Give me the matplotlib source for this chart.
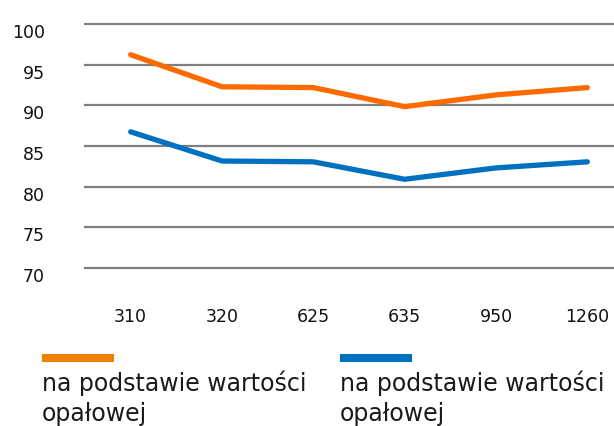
import matplotlib
matplotlib.use("Agg")
import matplotlib.pyplot as plt
from matplotlib.lines import Line2D
import matplotlib.transforms as mtransforms

# Data
categories = ["310", "320", "625", "635", "950", "1260"]
orange_vals = [96.25, 92.3, 92.2, 89.85, 91.3, 92.2]
blue_vals = [86.75, 83.15, 83.05, 80.9, 82.3, 83.05]
series_labels = ["na podstawie wartości\nopałowej", "na podstawie wartości\nopałowej"]
y_ticks = [70, 75, 80, 85, 90, 95, 100]

orange = "#FF6A00"
blue = "#0070C0"
legend_orange = "#F08000"

plt.rcParams["font.family"] = "DejaVu Sans"

fig = plt.figure(figsize=(6.14, 4.27), dpi=100)
# axes spans beyond the right edge so the grid runs to the border
ax = fig.add_axes([85 / 614, 158.3 / 427, 548 / 614, 243.4 / 427])

x = list(range(len(categories)))
ax.plot(x, orange_vals, color=orange, lw=3.8, solid_capstyle="round", solid_joinstyle="round", zorder=3)
ax.plot(x, blue_vals, color=blue, lw=3.8, solid_capstyle="round", solid_joinstyle="round", zorder=3)

ax.set_xlim(-0.5, 5.5)
ax.set_ylim(70, 100)
ax.set_yticks(y_ticks)
ax.set_xticks(x)
ax.set_xticklabels(categories)
ax.grid(axis="y", color="#7F7F7F", lw=1.6)
for gl in ax.get_ygridlines():
    gl.set_clip_on(False)
ax.set_axisbelow(True)
for s in ax.spines.values():
    s.set_visible(False)
ax.tick_params(axis="both", length=0, labelsize=12.5, colors="#111111")
ax.tick_params(axis="y", pad=29)
ax.tick_params(axis="x", pad=28)

# nudge y tick labels slightly down like in the reference
offset = mtransforms.ScaledTranslation(0, -0.06, fig.dpi_scale_trans)
for lab in ax.get_yticklabels():
    lab.set_transform(lab.get_transform() + offset)

# legend drawn by hand: colour bar above the wrapped label
legend_x = [42 / 614, 340 / 614]
legend_w = 72 / 614
legend_cols = [legend_orange, blue]
for lx, col, lab in zip(legend_x, legend_cols, series_labels):
    fig.add_artist(Line2D([lx, lx + legend_w], [1 - 359 / 427, 1 - 359 / 427],
                          color=col, lw=5.8, solid_capstyle="butt", transform=fig.transFigure))
    fig.text(lx, 1 - 371 / 427, lab, fontsize=17, va="top", ha="left",
             linespacing=1.3, color="#1a1a1a")

fig.savefig("out.png", dpi=100)
